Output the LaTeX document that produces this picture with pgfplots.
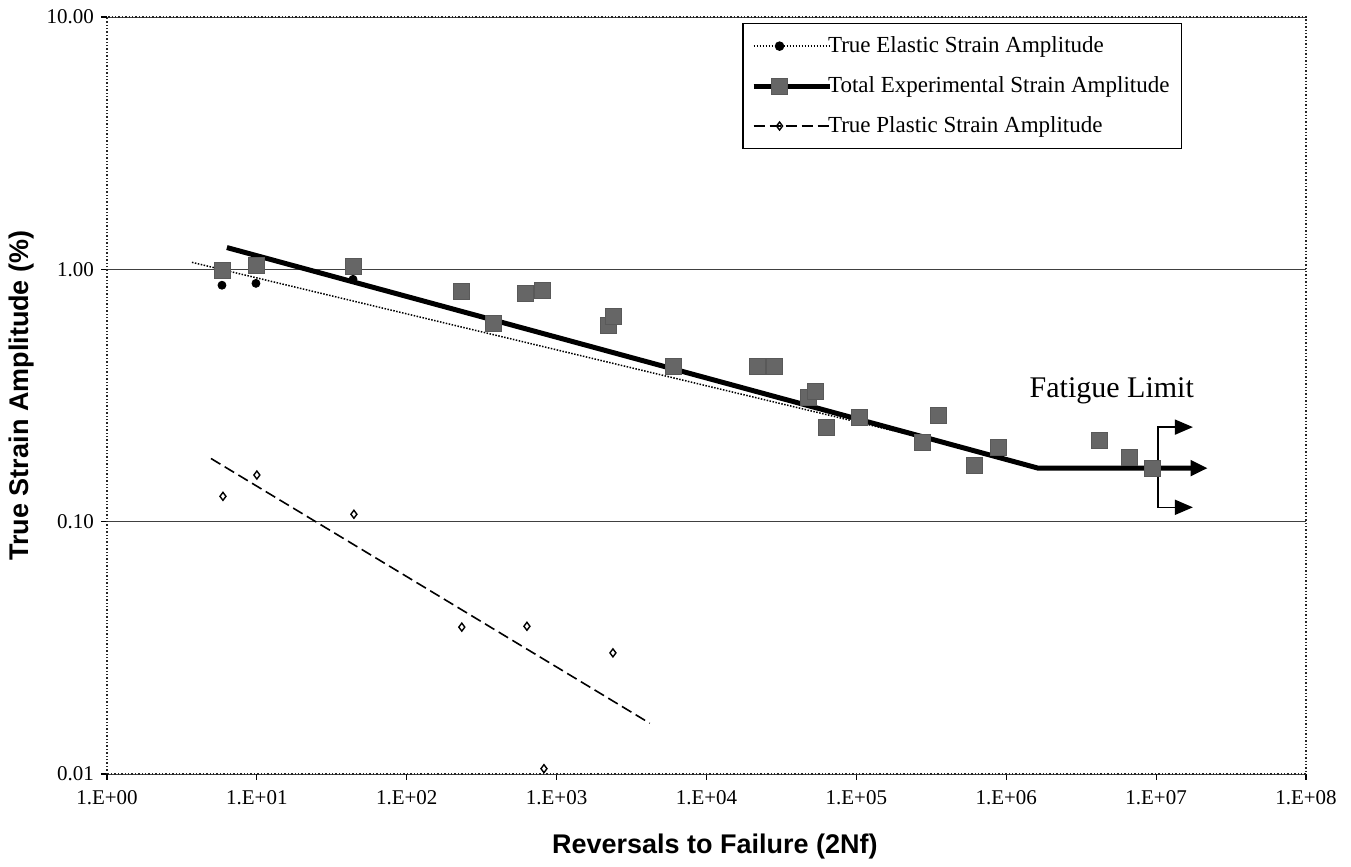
\documentclass[border=0pt]{standalone}
\usepackage{fontspec}
\setmainfont{Liberation Serif}
\setsansfont{Liberation Sans}
\usepackage{pgfplots}
\pgfplotsset{compat=1.18}
\usetikzlibrary{arrows.meta}

\tikzset{
  elastic/.style={black, line width=0.75pt, dash pattern=on 0.75pt off 0.75pt},
  total/.style={black, line width=2.5pt},
  plastic/.style={black, line width=0.8pt, dash pattern=on 5.5pt off 2.5pt},
  sqmark/.style={mark=square*, mark size=4pt, mark options={solid, fill=black!60, draw=black!65, line width=0.3pt}},
  dotmark/.style={mark=*, mark size=2pt, mark options={solid, fill=black}},
  dmdmark/.style={mark=diamond, mark size=2pt, mark options={solid, line width=0.7pt}},
}

\begin{document}
\begin{tikzpicture}
\begin{axis}[
  name=ax, at={(0,0)}, anchor=south west,
  scale only axis, width=599.5pt, height=378.5pt,
  xmode=log, ymode=log,
  xmin=1, xmax=1e8, ymin=0.01, ymax=10,
  xtick={1,10,100,1000,1e4,1e5,1e6,1e7,1e8},
  xticklabels={1.E+00,1.E+01,1.E+02,1.E+03,1.E+04,1.E+05,1.E+06,1.E+07,1.E+08},
  ytick={0.01,0.1,1,10},
  yticklabels={0.01,0.10,1.00,10.00},
  minor tick length=0pt,
  tick align=outside, tick pos=left, major tick length=3pt,
  tick style={black, line width=0.6pt},
  tick label style={font=\fontsize{10.5}{12}\selectfont},
  xticklabel style={yshift=-1.5pt},
  ymajorgrids, grid style={black!75, line width=0.5pt},
  axis line style={black!85, line width=0.7pt, densely dotted},
  every axis x label/.style={at={(axis description cs:0.507,0)}, yshift=-36.5pt, anchor=center},
  every axis y label/.style={at={(axis description cs:0,0.5)}, xshift=-42.5pt, rotate=90, anchor=center},
  label style={font=\sffamily\bfseries\fontsize{13.5}{16}\selectfont},
  xlabel={Reversals to Failure (2Nf)},
  ylabel={True Strain Amplitude (\%)},
  legend image code/.code={\draw[#1, mark repeat=2, mark phase=2] plot coordinates {(0pt,0pt) (13pt,0pt) (38pt,0pt)};},
  legend style={at={(0.530,0.992)}, anchor=north west, draw=black, line width=0.6pt,
    inner xsep=4pt, inner ysep=4.5pt, row sep=6.5pt,
    font=\fontsize{11.5}{13}\selectfont, cells={anchor=west},
    /tikz/every odd column/.append style={column sep=-4pt}},
  legend cell align=left,
]
\addlegendimage{elastic, dotmark}
\addlegendentry{True Elastic Strain Amplitude}
\addlegendimage{total, sqmark}
\addlegendentry{Total Experimental Strain Amplitude}
\addlegendimage{plastic, dmdmark}
\addlegendentry{True Plastic Strain Amplitude\rule[-9pt]{0pt}{1pt}}

% fitted lines
\addplot[elastic, forget plot] coordinates {(3.69,1.066) (2.7e5,0.216)};
\addplot[plastic, forget plot] coordinates {(4.94,0.178) (4180,0.0159)};
\addplot[total, forget plot, -{Triangle[length=8.5pt,width=7.5pt]}] coordinates {(6.31,1.22) (1.63e6,0.163) (2.21e7,0.163)};

% experimental total strain
\addplot[only marks, sqmark, forget plot] coordinates {
(5.85,0.99) (9.86,1.04) (43.8,1.03) (230,0.818) (615,0.803) (798,0.826)
(376,0.611) (2200,0.60) (2400,0.65) (5970,0.413) (21700,0.413) (28200,0.413)
(48000,0.31) (53000,0.33) (62600,0.237) (104000,0.259) (350000,0.264)
(274000,0.206) (608000,0.167) (879000,0.197) (4.2e6,0.210) (6.67e6,0.180) (9.5e6,0.163)
};
% elastic strain
\addplot[only marks, dotmark, forget plot] coordinates {(5.85,0.865) (9.86,0.88) (43.8,0.913)};
% plastic strain
\addplot[only marks, dmdmark, forget plot] coordinates {
(5.94,0.126) (10.0,0.153) (44.4,0.107) (233,0.0382) (634,0.0385) (2375,0.0302) (823,0.0105)
};

% fatigue limit annotation
\draw[black, line width=0.8pt, {Triangle[length=9pt,width=7.5pt]}-{Triangle[length=9pt,width=7.5pt]}]
  (axis cs:1.76e7,0.237) -- (axis cs:1.03e7,0.237) -- (axis cs:1.03e7,0.114) -- (axis cs:1.76e7,0.114);
\node[font=\fontsize{15}{18}\selectfont] at (axis cs:5.06e6,0.33) {Fatigue Limit};
\end{axis}
\pgfresetboundingbox
\path[use as bounding box] (-53.5pt,-46.5pt) rectangle (622pt,387pt);
\end{tikzpicture}
\end{document}
